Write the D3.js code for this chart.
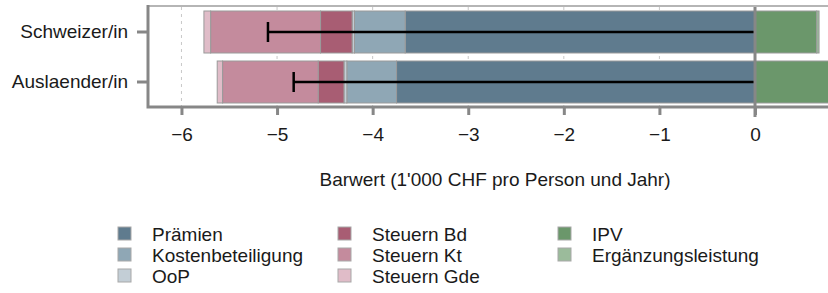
<!DOCTYPE html>
<html>
<head>
<meta charset="utf-8">
<script src="https://cdn.jsdelivr.net/npm/d3@7"></script>
<style>
  body { margin: 0; background: #fff; }
  svg { display: block; font-family: "Liberation Sans", Arial, sans-serif; }
</style>
</head>
<body>
<div id="chart"></div>
<script>
// rows (top to bottom)
const groups = ["Schweizer/in", "Auslaender/in"];

// series, values in 1'000 CHF per person and year (costs negative)
const praemien = [-3.66, -3.75];
const kostenbeteiligung = [-0.53, -0.52];
const oop = [-0.025, -0.03];
const steuernBd = [-0.33, -0.27];
const steuernKt = [-1.15, -1.0];
const steuernGde = [-0.07, -0.056];
const ipv = [0.645, 0.78];
const ergaenzung = [0.025, 0.02];

const seriesNames = ["Prämien", "Kostenbeteiligung", "OoP", "Steuern Bd", "Steuern Kt", "Steuern Gde", "IPV", "Ergänzungsleistung"];
const seriesValues = [praemien, kostenbeteiligung, oop, steuernBd, steuernKt, steuernGde, ipv, ergaenzung];
const seriesColors = ["#5f7b8e", "#8fa7b5", "#c3ced6", "#a85d73", "#c48b9d", "#e0bcc8", "#6b976b", "#9bbb9b"];

const xTicks = [-6, -5, -4, -3, -2, -1, 0];
const xTitle = "Barwert (1'000 CHF pro Person und Jahr)";

const width = 828, height = 293;
const panel = { left: 148, right: 842, top: 7, bottom: 107 };
const fontSize = 19;

const rows = groups.map((g, i) => {
  const r = { group: g };
  seriesNames.forEach((s, j) => r[s] = seriesValues[j][i]);
  return r;
});

const stacked = d3.stack()
  .keys(seriesNames)
  .offset(d3.stackOffsetDiverging)(rows);

const x = d3.scaleLinear().domain([-6.35, 0.91]).range([panel.left, panel.right]);
const y = d3.scaleBand().domain(groups).range([panel.top, panel.bottom])
  .paddingInner(0.16).paddingOuter(0.08);
const color = d3.scaleOrdinal().domain(seriesNames).range(seriesColors);

const svg = d3.select("#chart").append("svg")
  .attr("width", width).attr("height", height);

// gridlines
svg.append("g")
  .selectAll("line")
  .data(xTicks)
  .join("line")
  .attr("x1", d => x(d)).attr("x2", d => x(d))
  .attr("y1", panel.top).attr("y2", panel.bottom)
  .attr("stroke", "#c8c8c8")
  .attr("stroke-width", 1)
  .attr("stroke-dasharray", "3,4");

// stacked bars
svg.append("g")
  .selectAll("g")
  .data(stacked)
  .join("g")
  .attr("fill", d => color(d.key))
  .selectAll("rect")
  .data(d => d)
  .join("rect")
  .attr("x", d => x(Math.min(d[0], d[1])))
  .attr("width", d => Math.abs(x(d[1]) - x(d[0])))
  .attr("y", d => y(d.data.group))
  .attr("height", y.bandwidth())
  .attr("stroke", "#9a9a9a")
  .attr("stroke-width", 1);

// net value marker (sum of all components) with line to zero
const net = rows.map(r => ({ group: r.group, value: d3.sum(seriesNames, s => r[s]) }));
const eb = svg.append("g").attr("stroke", "#000").attr("stroke-width", 2.5);
eb.selectAll(".ebline")
  .data(net)
  .join("line")
  .attr("x1", d => x(d.value)).attr("x2", x(0))
  .attr("y1", d => y(d.group) + y.bandwidth() / 2)
  .attr("y2", d => y(d.group) + y.bandwidth() / 2);
eb.selectAll(".ebcap")
  .data(net)
  .join("line")
  .attr("x1", d => x(d.value)).attr("x2", d => x(d.value))
  .attr("y1", d => y(d.group) + y.bandwidth() / 2 - 10)
  .attr("y2", d => y(d.group) + y.bandwidth() / 2 + 10);

// zero line
svg.append("line")
  .attr("x1", x(0)).attr("x2", x(0))
  .attr("y1", panel.top).attr("y2", panel.bottom + 10)
  .attr("stroke", "#878787").attr("stroke-width", 3);

// panel border
svg.append("line")
  .attr("x1", panel.left).attr("x2", panel.right)
  .attr("y1", panel.top - 1).attr("y2", panel.top - 1)
  .attr("stroke", "#b5b5b5").attr("stroke-width", 2);
svg.append("path")
  .attr("d", `M${panel.left},${panel.top - 2}V${panel.bottom}H${panel.right}`)
  .attr("fill", "none")
  .attr("stroke", "#878787").attr("stroke-width", 3);

// x axis
const xAxis = svg.append("g")
  .attr("transform", `translate(0,${panel.bottom})`)
  .call(d3.axisBottom(x).tickValues(xTicks).tickSize(8).tickPadding(13).tickFormat(d3.format("d")));
xAxis.select(".domain").remove();
xAxis.selectAll(".tick line").attr("stroke", "#878787").attr("stroke-width", 3);
xAxis.selectAll(".tick text")
  .attr("font-size", fontSize).attr("fill", "#1a1a1a")
  .attr("font-family", "'Liberation Sans', Arial, sans-serif");

svg.append("text")
  .attr("x", (panel.left + panel.right) / 2)
  .attr("y", 186)
  .attr("text-anchor", "middle")
  .attr("font-size", fontSize)
  .attr("fill", "#1a1a1a")
  .text(xTitle);

// y axis
const yAxis = svg.append("g")
  .attr("transform", `translate(${panel.left},0)`)
  .call(d3.axisLeft(y).tickSize(11).tickPadding(9));
yAxis.select(".domain").remove();
yAxis.selectAll(".tick line").attr("stroke", "#878787").attr("stroke-width", 3);
yAxis.selectAll(".tick text")
  .attr("font-size", fontSize).attr("fill", "#1a1a1a")
  .attr("font-family", "'Liberation Sans', Arial, sans-serif");

// legend, three columns
const legendCols = [[0, 1, 2], [3, 4, 5], [6, 7]];
const legend = svg.append("g");
legendCols.forEach((col, ci) => {
  col.forEach((si, ri) => {
    const g = legend.append("g")
      .attr("transform", `translate(${118 + ci * 220},${234 + ri * 21})`);
    g.append("rect")
      .attr("x", 0).attr("y", -7)
      .attr("width", 13).attr("height", 13)
      .attr("fill", seriesColors[si])
      .attr("stroke", "#a8a8a8").attr("stroke-width", 1);
    g.append("text")
      .attr("x", 34).attr("y", 0)
      .attr("dy", "0.35em")
      .attr("font-size", fontSize)
      .attr("fill", "#1a1a1a")
      .text(seriesNames[si]);
  });
});
</script>
</body>
</html>
